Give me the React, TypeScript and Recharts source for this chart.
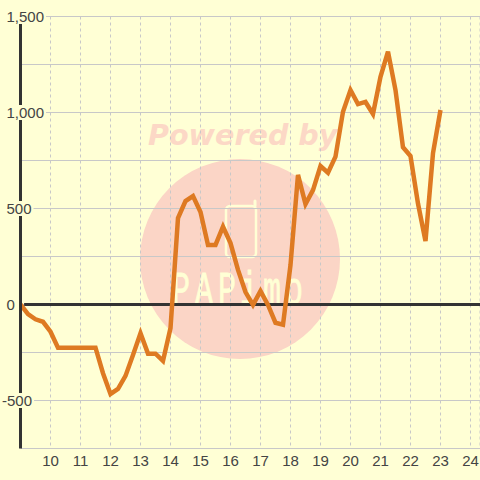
import { ComposedChart, Line, XAxis, YAxis, CartesianGrid, ReferenceLine } from 'recharts';

const hours = [
  9, 9.25, 9.5, 9.75, 10, 10.25, 10.5, 10.75, 11, 11.25, 11.5, 11.75, 12, 12.25, 12.5, 12.75,
  13, 13.25, 13.5, 13.75, 14, 14.25, 14.5, 14.75, 15, 15.25, 15.5, 15.75, 16, 16.25, 16.5, 16.75,
  17, 17.25, 17.5, 17.75, 18, 18.25, 18.5, 18.75, 19, 19.25, 19.5, 19.75, 20, 20.25, 20.5, 20.75,
  21, 21.25, 21.5, 21.75, 22, 22.25, 22.5, 22.75, 23,
];
const values = [
  0, -50, -77, -90, -142, -225, -225, -225, -225, -225, -225, -358, -466, -440, -372, -263,
  -150, -256, -256, -294, -123, 450, 539, 565, 482, 310, 310, 405, 320, 180, 65, -2,
  70, -2, -95, -105, 205, 675, 523, 596, 721, 686, 770, 1004, 1117, 1044, 1055, 992,
  1186, 1317, 1117, 819, 773, 526, 330, 788, 1013,
];
const xTicks = [9, 10, 11, 12, 13, 14, 15, 16, 17, 18, 19, 20, 21, 22, 23, 24];
const yTicks = [-750, -500, -250, 0, 250, 500, 750, 1000, 1250, 1500];

const data = hours.map((h, i) => ({ h, v: values[i] }));

const BG = '#ffffd5';
const FONT = '"Liberation Sans", Arial, sans-serif';

const fmtX = (v: number) => (v === 9 ? '' : String(v));

// labels sit on top of the axis with a background box, like the original
const YTick = ({ y, payload }: any) => {
  const v = payload.value;
  if (v === -750 || v % 500 !== 0) return <g />;
  const label = v.toLocaleString('en-US');
  const left = v < 0 ? 2 : 6.5;
  const w = label.length * 8.34 - (label.includes(',') ? 4.2 : 0) - (v < 0 ? 3.3 : 0);
  return (
    <g>
      <rect x={left - 1} y={y - 7.5} width={w + 3} height={15} fill={BG} />
      <text x={left} y={y + 5} fontSize={15} fill="#444" fontFamily={FONT}>
        {label}
      </text>
    </g>
  );
};

const Watermark = () => (
  <svg width={480} height={480} style={{ position: 'absolute', left: 0, top: 0 }}>
    <circle cx={240} cy={259} r={100} fill="#fbd5c6" />
    <text x={148} y={145} fontSize={28.6} fontWeight="bold" fontStyle="italic" fontFamily="DejaVu Sans" fill="#fcd8c6">
      Powered by
    </text>
    <rect x={226} y={206} width={30} height={51} rx={4} fill="none" stroke={BG} strokeWidth={2.5} />
    <line x1={255} y1={206} x2={255} y2={201} stroke={BG} strokeWidth={3} strokeLinecap="round" />
    <text
      x="0 23 46 68 91 113"
      y={0}
      fontSize={30}
      fontFamily="Liberation Mono"
      fill={BG}
      stroke={BG}
      strokeWidth={0.5}
      transform="translate(172 304) scale(1 1.55)"
    >
      PAPimo
    </text>
  </svg>
);

export default function App() {
  return (
    <div style={{ position: 'absolute', left: 0, top: 0, width: 480, height: 480, background: BG }}>
      <Watermark />
      <ComposedChart
        width={480}
        height={480}
        data={data}
        margin={{ top: 16.5, right: 0, bottom: 0, left: 0 }}
        style={{ position: 'absolute', left: 0, top: 0, fontFamily: FONT }}
      >
        <CartesianGrid horizontal={false} stroke="#c8c8c8" strokeDasharray="3 3" />
        <CartesianGrid vertical={false} stroke="#c8c8c8" />
        <XAxis
          type="number"
          dataKey="h"
          domain={[9, 24.317]}
          ticks={xTicks}
          tickFormatter={fmtX}
          interval={0}
          allowDataOverflow
          height={31.5}
          axisLine={false}
          tickLine={false}
          tickMargin={1}
          tick={{ fill: '#444', fontSize: 15 }}
        />
        <ReferenceLine
          segment={[{ x: 9.12, y: 0 }, { x: 24.317, y: 0 }]}
          stroke="#333"
          strokeWidth={3}
        />
        <YAxis
          type="number"
          domain={[-750, 1500]}
          ticks={yTicks}
          interval={0}
          width={20.5}
          axisLine={{ stroke: '#333', strokeWidth: 3 }}
          tickLine={false}
          tick={<YTick />}
        />
        <Line
          dataKey="v"
          stroke="#de7a22"
          strokeWidth={4.5}
          dot={false}
          isAnimationActive={false}
        />
      </ComposedChart>
    </div>
  );
}
